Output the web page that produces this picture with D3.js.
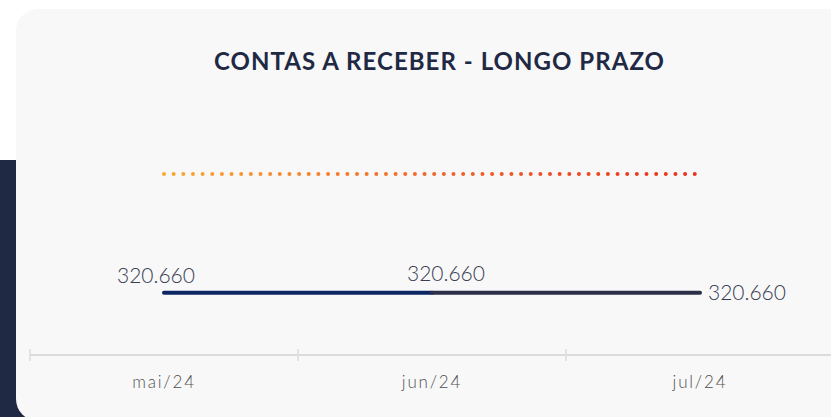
<!DOCTYPE html>
<html>
<head>
<meta charset="utf-8">
<script src="https://cdn.jsdelivr.net/npm/d3@7"></script>
<style>
  html, body { margin: 0; padding: 0; background: #ffffff; }
  svg { display: block; }
</style>
</head>
<body>
<div id="chart"></div>
<script>
const months = ["mai/24", "jun/24", "jul/24"];
const saldo = [320660, 320660, 320660];
const referencia = [934000, 934000, 934000];
const segment_colors = ["#0c2764", "#2b2f47"];
const title = "CONTAS A RECEBER - LONGO PRAZO";

const svg_width = 831, svg_height = 417;

let svg = d3.select("#chart").append("svg")
    .attr("width", svg_width)
    .attr("height", svg_height);

// dark side panel behind the card
svg.append("rect")
    .attr("x", 0).attr("y", 160)
    .attr("width", 40).attr("height", 260)
    .attr("fill", "#1f2944");

// card
svg.append("rect")
    .attr("x", 16).attr("y", 9)
    .attr("width", 860).attr("height", 412)
    .attr("rx", 22).attr("ry", 22)
    .attr("fill", "#f8f8f8");

svg.append("text")
    .attr("x", 439).attr("y", 70)
    .attr("text-anchor", "middle")
    .attr("font-family", "Lato, sans-serif")
    .attr("font-weight", "bold")
    .attr("font-size", 24)
    .attr("fill", "#1f2944")
    .attr("textLength", 450)
    .attr("lengthAdjust", "spacing")
    .text(title);

let x = d3.scaleBand()
    .domain(months)
    .range([30, 834]);

let y = d3.scaleLinear()
    .domain([0, 960000])
    .range([355, 169]);

const cx = m => x(m) + x.bandwidth() / 2;

// x axis
let axis = svg.append("g")
    .attr("transform", "translate(0,355)");
axis.append("line")
    .attr("x1", 30).attr("x2", 834)
    .attr("stroke", "#dcdcdc").attr("stroke-width", 2);
[...months.map(m => x(m)), 834].forEach(b => {
    axis.append("line")
        .attr("x1", b).attr("x2", b)
        .attr("y1", -6).attr("y2", 6)
        .attr("stroke", "#dcdcdc").attr("stroke-width", 1.5);
});
axis.selectAll(".lbl")
    .data(months)
    .enter().append("text")
    .attr("class", "lbl")
    .attr("x", d => cx(d))
    .attr("y", 33)
    .attr("text-anchor", "middle")
    .attr("font-family", "Lato, sans-serif")
    .attr("font-weight", 300)
    .attr("font-size", 17)
    .attr("letter-spacing", 1.8)
    .attr("fill", "#505050")
    .text(d => d);

// dotted reference line with gradient
let grad = svg.append("defs").append("linearGradient")
    .attr("id", "refGrad")
    .attr("gradientUnits", "userSpaceOnUse")
    .attr("x1", cx(months[0])).attr("x2", cx(months[months.length - 1]))
    .attr("y1", 0).attr("y2", 0);
grad.append("stop").attr("offset", "0%").attr("stop-color", "#f9a831");
grad.append("stop").attr("offset", "50%").attr("stop-color", "#f3642a");
grad.append("stop").attr("offset", "100%").attr("stop-color", "#e8321e");

svg.append("path")
    .datum(referencia)
    .attr("d", d3.line()
        .x((_, i) => cx(months[i]))
        .y(v => y(v)))
    .attr("fill", "none")
    .attr("stroke", "url(#refGrad)")
    .attr("stroke-width", 4)
    .attr("stroke-linecap", "round")
    .attr("stroke-dasharray", "0 9.65");

// main series, one segment per interval
const segs = d3.pairs(d3.range(saldo.length));
svg.selectAll(".seg")
    .data(segs)
    .enter().append("line")
    .attr("class", "seg")
    .attr("x1", d => cx(months[d[0]]))
    .attr("x2", d => cx(months[d[1]]))
    .attr("y1", d => y(saldo[d[0]]))
    .attr("y2", d => y(saldo[d[1]]))
    .attr("stroke", (_, i) => segment_colors[i])
    .attr("stroke-width", 4)
    .attr("stroke-linecap", "round");

// data labels
const fmt = v => d3.format(",")(v).replace(/,/g, ".");
const label_pos = [
    {dx: -8, dy: -10, anchor: "middle"},
    {dx: 14, dy: -12, anchor: "middle"},
    {dx: 8, dy: 7, anchor: "start"}
];
svg.selectAll(".val")
    .data(saldo)
    .enter().append("text")
    .attr("class", "val")
    .attr("x", (_, i) => cx(months[i]) + label_pos[i].dx)
    .attr("y", (v, i) => y(v) + label_pos[i].dy)
    .attr("text-anchor", (_, i) => label_pos[i].anchor)
    .attr("font-family", "Lato, sans-serif")
    .attr("font-weight", 300)
    .attr("font-size", 21)
    .attr("fill", "#383d52")
    .text(v => fmt(v));
</script>
</body>
</html>
